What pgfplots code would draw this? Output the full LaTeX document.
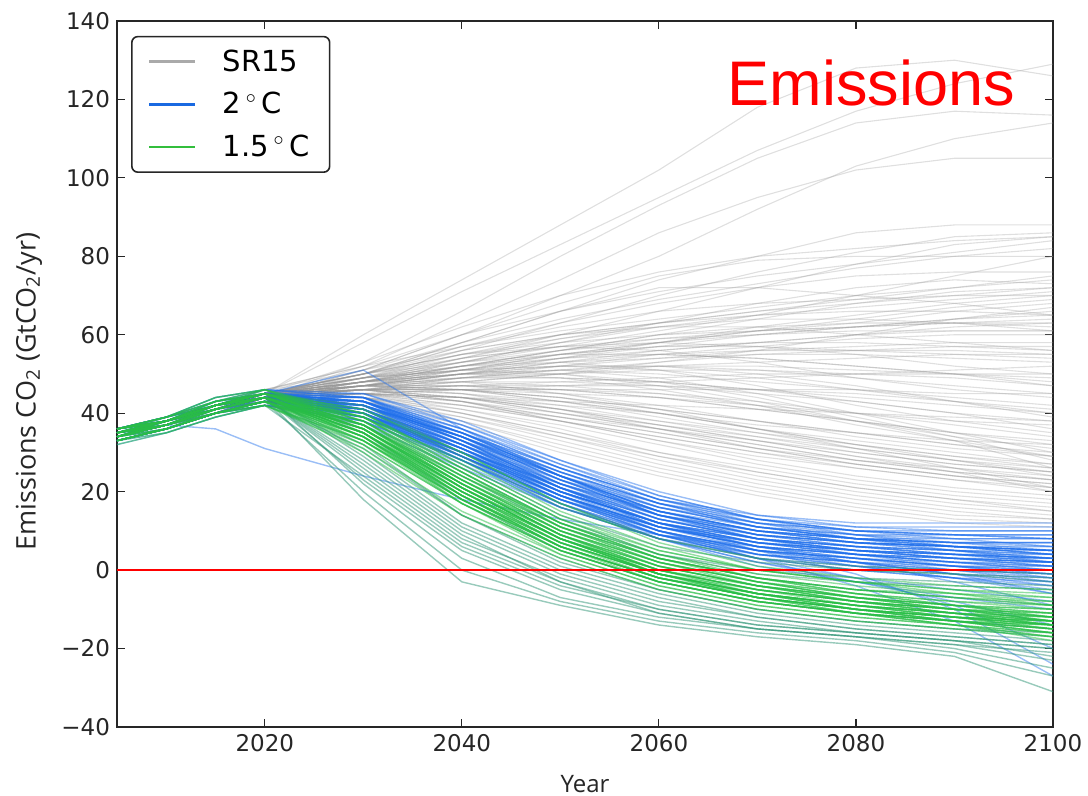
\documentclass[border=0pt]{standalone}
\usepackage{pgfplots}
\usepackage{pgfplotstable}
\pgfplotsset{compat=1.18}
\usepackage{fontspec}
\setmainfont{DejaVu Sans}
\newfontfamily\labfont{Open Sans}
\newfontfamily\arialfont{Liberation Sans}

\definecolor{greyl}{RGB}{150,150,150}
\definecolor{bluel}{RGB}{30,110,235}
\definecolor{greenl}{RGB}{40,190,70}
\definecolor{teall}{RGB}{50,150,120}
\definecolor{leggrey}{RGB}{170,170,170}
\definecolor{legblue}{RGB}{25,105,225}
\definecolor{leggreen}{RGB}{50,190,60}

% rows = scenarios, columns = years
\pgfplotstableread[header=has colnames]{
2005 2010 2015 2020 2030 2040 2050 2060 2070 2080 2090 2100
34 37 41 45 60 74 88 102 118 128 130 126
35 37 41 45 58 71 83 95 107 117 124 129
34 37 40 44 53 66 80 93 105 114 117 116
35 38 41 45 51 60 70 80 92 103 110 114
34 37 40 44 52 63 74 86 95 102 105 105
35 37 41 45 50 58 66 74 80 86 88 88
34 37 40 44 49 56 63 70 76 81 85 86
35 38 41 46 52 60 68 75 79 80 80 80
34 37 40 45 50 57 63 68 72 75 76 76
35 37 41 45 48 53 58 63 68 72 74 73
34 37 40 44 50 58 66 72 72 70 68 65
35 38 41 45 49 52 56 60 64 68 71 72
34 37 40 44 48 51 55 58 62 65 68 70
35 37 41 45 47 50 54 58 61 63 66 68
34 37 40 44 49 55 60 63 65 66 66 65
35 38 41 45 48 52 56 60 62 63 63 62
34 37 40 44 47 50 53 56 58 60 61 61
35 37 41 45 50 56 60 62 62 60 58 56
34 37 40 44 46 49 52 55 57 59 60 60
35 38 41 45 48 50 52 54 56 57 58 58
34 37 40 44 47 51 55 57 57 56 55 54
35 37 41 45 49 54 57 58 57 55 52 50
34 37 40 44 46 48 50 52 53 54 55 55
35 38 41 45 48 52 54 55 54 52 50 48
34 37 40 44 47 49 51 52 52 51 50 49
35 37 41 45 50 55 57 56 53 49 46 44
34 37 40 44 46 47 48 49 50 50 51 52
35 38 41 45 48 50 51 50 48 46 44 42
34 37 40 44 47 50 52 52 50 47 43 40
35 37 41 45 46 46 46 46 46 46 45 45
34 37 40 44 48 52 53 51 47 42 38 35
35 38 41 45 47 48 48 47 45 43 40 38
34 37 40 44 46 46 45 44 42 40 38 37
35 37 41 45 49 51 50 47 43 38 34 31
34 37 40 44 46 47 46 44 41 38 35 33
35 38 41 45 47 47 45 42 38 34 31 29
34 37 40 44 45 44 42 40 37 35 33 32
35 37 41 45 48 48 45 41 36 32 29 27
34 37 40 44 46 45 42 38 34 30 27 25
35 38 41 45 46 44 40 36 32 28 26 24
34 37 40 44 45 43 40 37 34 31 28 26
35 37 41 45 47 45 41 36 31 27 24 22
34 37 40 44 45 42 38 33 29 26 23 21
35 38 41 45 46 43 38 33 28 24 21 19
34 37 40 44 44 41 37 32 27 23 20 18
35 37 41 45 45 41 36 30 25 21 18 16
34 37 40 44 44 40 35 29 24 20 17 15
35 38 41 45 45 40 34 28 23 19 16 14
34 37 40 44 43 38 32 26 21 17 14 13
35 37 41 45 44 38 31 25 20 16 13 12
34 37 40 44 43 37 30 24 19 15 12 11
35 38 41 45 44 39 33 27 22 18 15 13
34 37 40 44 46 43 39 35 31 28 25 23
35 37 41 45 47 46 44 41 38 35 32 30
34 37 40 44 47 49 49 48 46 44 42 40
35 38 41 45 49 53 55 55 54 52 50 47
34 37 40 44 48 51 54 56 58 60 62 63
35 37 41 45 50 55 59 63 66 69 72 75
34 37 40 44 51 58 64 69 73 77 80 82
35 38 41 45 49 53 57 61 65 70 75 80
34 37 40 44 48 54 60 66 72 78 83 85
35 37 41 45 46 48 50 53 56 60 64 67
34 37 40 44 45 46 47 48 49 50 50 50
35 38 41 45 45 44 43 42 41 40 39 38
34 37 40 44 47 50 51 49 45 40 35 30
35 37 41 45 48 50 50 48 44 39 34 28
34 37 40 44 46 46 44 40 36 31 26 21
35 38 41 45 44 40 35 30 26 22 19 17
34 37 40 44 45 44 41 37 33 29 25 20
35 37 41 45 47 48 47 45 42 38 33 26
34 37 40 44 43 39 34 29 25 21 18 15
35 38 41 45 46 45 43 40 36 32 28 24
34 37 41 45 50 57 62 66 68 69 70 70
35 38 42 46 51 56 60 63 66 68 70 72
33 36 40 44 48 53 58 62 65 67 69 71
36 38 41 45 49 52 55 58 61 64 67 69
34 37 40 44 47 51 54 57 60 62 64 65
35 38 42 45 50 54 57 59 60 61 61 61
33 36 40 44 46 49 51 53 55 56 57 57
34 37 41 45 48 51 53 54 55 55 54 53
35 38 41 45 47 49 50 51 51 50 49 47
36 39 42 46 49 51 52 52 51 49 47 45
34 37 40 44 46 47 47 47 46 45 43 41
35 37 41 45 48 49 49 48 46 43 40 36
33 36 40 43 45 46 46 45 43 40 37 34
34 38 42 45 47 47 46 44 41 38 35 32
35 37 41 44 46 46 44 41 38 35 32 29
36 38 42 45 47 46 43 40 36 33 30 27
34 37 40 44 45 44 41 38 35 32 29 26
35 38 41 45 46 44 41 37 33 29 26 23
33 36 40 44 45 43 39 35 31 27 24 21
34 37 41 45 46 43 38 34 30 26 23 20
35 38 42 45 45 42 38 34 30 27 24 22
36 38 41 45 46 44 40 36 32 28 25 23
34 37 40 44 44 42 39 36 33 30 27 25
35 37 41 45 47 46 43 39 35 31 28 25
34 37 40 44 48 50 49 46 42 37 33 29
35 38 41 45 49 51 52 51 49 46 43 39
33 36 40 44 47 50 53 55 56 56 56 55
34 37 41 45 50 53 56 58 60 62 64 66
35 38 42 46 52 57 61 64 67 70 72 74
36 39 42 45 50 55 58 60 61 62 63 64
34 37 40 44 49 54 59 62 64 64 63 61
35 38 41 45 48 52 55 57 58 58 57 56
34 37 40 44 47 52 56 59 61 62 63 63
35 37 41 45 53 62 70 76 80 82 84 85
34 37 40 44 51 60 66 71 75 78 81 84
}\greyraw

\pgfplotstableread[header=has colnames]{
2005 2010 2015 2020 2030 2040 2050 2060 2070 2080 2090 2100
35 38 42 45 44 36 26 18 14 12 12 12
34 37 41 44 43 35 25 17 13 11 11 11
36 38 42 45 42 33 24 17 12 10 10 10
33 36 40 43 41 32 22 15 11 9 9 9
35 38 42 44 42 34 23 15 10 8 8 8
34 37 41 44 40 31 21 14 10 8 7 7
36 38 41 45 43 35 24 15 9 7 6 6
33 36 40 43 39 30 20 12 8 6 5 5
35 37 41 44 41 32 21 13 8 6 5 4
34 38 42 45 43 33 22 13 8 5 4 3
36 38 42 45 42 32 20 11 7 5 3 3
33 36 40 43 40 30 19 11 6 4 3 2
35 38 41 44 41 31 20 12 6 4 2 2
34 37 41 44 39 29 18 10 5 3 2 1
36 39 42 45 42 31 19 10 5 3 1 1
33 36 40 42 38 28 17 9 5 3 1 0
35 38 42 44 40 30 19 10 4 2 1 0
34 37 41 44 41 30 18 9 4 2 0 -1
36 38 42 45 43 32 20 10 4 1 0 -1
33 36 40 43 39 28 17 8 3 1 -1 -2
35 37 41 44 40 29 18 9 3 0 -2 -3
34 38 42 45 42 31 19 9 3 0 -2 -4
36 38 42 45 44 34 24 16 11 9 8 8
33 36 40 43 42 35 26 18 13 10 8 6
35 38 41 44 42 34 25 17 11 8 6 5
34 37 41 44 43 36 27 19 13 9 6 4
36 39 42 45 41 30 20 12 8 6 5 3
33 36 40 42 40 30 20 12 7 4 2 0
35 38 42 44 41 30 19 11 6 2 -1 -4
34 37 41 44 40 28 16 8 2 -2 -5 -8
36 38 42 45 41 29 17 8 1 -3 -7 -10
33 36 40 43 38 27 16 8 2 -3 -8 -14
35 37 41 44 39 28 17 9 3 -2 -9 -20
34 38 42 45 41 31 20 12 5 -1 -10 -24
36 38 42 45 40 29 18 10 3 -4 -13 -27
33 36 40 43 39 30 22 15 10 8 7 6
35 38 41 44 44 37 28 20 14 11 10 10
34 37 41 44 42 33 23 14 9 6 4 2
36 39 42 45 43 33 21 12 7 4 2 1
35 38 42 45 51 36 24 15 10 7 5 4
35 37 36 31 24 18 13 9 6 4 3 2
34 37 41 43 37 26 16 9 5 3 1 -1
35 38 42 45 40 28 16 8 4 2 0 -2
36 38 42 46 45 38 28 19 13 10 9 9
34 37 41 44 43 34 23 14 9 7 6 5
34 37 42 45 42 33 22 14 10 8 7 7
35 38 43 45 43 34 23 14 9 7 6 5
36 39 44 46 44 35 25 16 11 8 6 4
33 35 39 42 40 31 21 13 9 7 6 5
34 36 40 44 42 33 24 15 10 7 5 3
35 37 41 43 41 32 22 14 9 6 4 2
36 38 43 45 42 32 21 12 7 5 4 3
33 36 41 44 43 34 22 13 8 5 3 2
34 37 42 44 41 31 20 12 8 6 4 3
35 39 44 46 44 33 21 11 6 4 3 2
36 38 41 43 40 30 19 11 7 5 4 4
32 35 39 42 39 29 19 11 7 5 4 3
34 37 40 43 41 32 23 16 12 10 9 8
35 38 42 44 42 34 25 17 12 9 7 5
36 38 42 45 43 35 26 18 12 8 5 2
33 36 40 43 40 31 20 12 7 4 1 -2
34 37 41 44 42 32 21 12 6 3 0 -3
35 38 43 45 43 33 21 11 5 1 -2 -5
36 39 43 46 41 29 18 10 5 2 -1 -6
34 36 40 42 38 28 18 11 6 3 1 -1
35 37 41 44 39 29 19 11 6 2 -3 -9
33 36 40 43 41 31 21 13 8 5 3 1
34 37 41 44 44 36 26 17 11 8 6 4
36 38 42 45 44 35 24 14 8 4 2 0
35 38 42 44 40 29 18 9 4 1 -2 -6
34 37 41 44 40 30 19 10 5 2 -1 -3
35 38 42 45 42 34 24 16 11 8 7 7
36 39 43 45 45 37 27 18 13 10 9 8
33 36 40 43 42 34 24 15 10 7 6 5
34 38 42 44 43 35 24 14 8 5 3 1
}\blueraw

\pgfplotstableread[header=has colnames]{
2005 2010 2015 2020 2030 2040 2050 2060 2070 2080 2090 2100
35 38 42 44 36 22 10 2 -3 -6 -8 -10
34 37 41 44 35 20 8 0 -5 -8 -10 -12
36 38 42 45 37 23 11 3 -2 -5 -7 -9
33 36 40 43 33 18 6 -2 -6 -9 -11 -13
35 38 41 44 34 19 7 -1 -6 -9 -12 -14
34 37 41 44 36 21 8 -1 -6 -10 -12 -14
36 39 42 45 38 24 12 4 -1 -4 -6 -8
33 36 40 43 32 17 5 -3 -8 -11 -13 -15
35 37 41 44 35 20 7 -2 -7 -10 -13 -16
34 38 42 45 37 22 9 0 -5 -9 -12 -15
36 38 42 45 39 26 13 5 0 -3 -5 -7
33 36 40 42 31 15 4 -4 -9 -12 -14 -16
35 38 42 44 35 19 6 -3 -8 -11 -14 -17
34 37 41 44 33 17 5 -3 -8 -11 -13 -14
36 38 42 45 36 21 9 1 -4 -7 -9 -11
33 36 40 43 34 20 8 0 -4 -7 -9 -10
35 37 41 44 37 23 10 2 -3 -7 -10 -13
34 38 42 45 38 25 12 3 -2 -6 -9 -12
36 38 42 46 40 27 14 5 0 -3 -6 -9
35 37 41 44 34 18 6 -2 -7 -10 -12 -13
34 37 40 43 30 14 3 -5 -10 -13 -15 -17
35 38 42 44 36 22 10 1 -4 -8 -11 -14
36 38 42 45 41 30 17 7 1 -2 -4 -5
34 37 41 44 39 28 15 6 0 -3 -5 -6
35 38 41 44 36 20 7 -1 -6 -9 -11 -12
34 37 42 45 37 22 9 1 -4 -7 -9 -11
35 38 43 45 36 21 8 0 -5 -8 -10 -12
36 39 44 46 38 23 10 1 -4 -8 -11 -14
33 35 39 42 33 19 7 -1 -6 -10 -13 -16
34 36 40 43 34 19 6 -2 -7 -10 -12 -14
35 37 41 44 35 20 7 -1 -6 -9 -11 -13
36 38 43 45 36 21 8 -1 -6 -9 -11 -12
33 36 41 44 36 22 9 0 -5 -8 -10 -11
34 37 42 44 34 18 5 -3 -8 -11 -13 -15
35 39 44 46 37 21 8 -1 -7 -11 -14 -17
36 38 41 43 35 21 9 1 -4 -7 -9 -10
32 35 39 42 32 17 5 -3 -8 -11 -13 -14
34 37 40 43 33 18 6 -2 -7 -10 -13 -15
35 38 42 44 37 24 12 3 -2 -5 -7 -8
36 38 42 45 39 25 12 3 -3 -7 -10 -13
33 36 40 43 35 21 8 -1 -6 -9 -11 -13
34 37 41 44 36 22 9 -1 -7 -11 -14 -18
35 38 43 45 37 22 9 0 -6 -10 -13 -16
36 39 43 46 39 25 11 2 -4 -8 -11 -14
34 36 40 42 33 18 6 -2 -7 -10 -12 -13
35 37 41 44 35 19 6 -2 -7 -10 -12 -15
33 36 40 43 34 19 7 -1 -5 -8 -10 -12
34 37 41 44 37 23 10 2 -3 -6 -8 -9
36 38 42 45 38 24 11 2 -3 -7 -10 -13
35 38 42 44 34 17 4 -4 -9 -12 -14 -16
34 37 41 44 35 20 8 0 -5 -8 -10 -11
35 38 42 45 37 23 11 3 -2 -5 -6 -7
36 39 43 45 40 26 13 4 -2 -6 -9 -12
33 36 40 43 36 21 8 -1 -6 -9 -12 -14
34 38 42 44 35 19 6 -2 -7 -10 -12 -13
}\greenraw

\pgfplotstableread[header=has colnames]{
2005 2010 2015 2020 2030 2040 2050 2060 2070 2080 2090 2100
35 38 42 44 18 -3 -9 -14 -17 -19 -22 -31
34 37 41 43 20 0 -8 -13 -16 -18 -21 -27
36 38 42 45 22 3 -7 -12 -15 -17 -20 -25
33 36 40 42 24 6 -4 -10 -14 -16 -18 -22
35 38 41 44 26 8 -2 -9 -13 -16 -18 -20
34 37 41 44 28 10 -1 -8 -12 -15 -17 -19
36 38 42 45 30 12 1 -6 -11 -14 -16 -18
35 37 41 44 32 14 2 -5 -10 -13 -15 -17
34 38 42 45 40 27 14 6 2 0 -1 -2
36 39 42 45 41 29 16 8 3 1 0 -1
33 36 40 43 38 25 12 4 0 -2 -3 -4
35 38 42 44 27 9 -3 -11 -15 -17 -19 -21
34 37 41 44 25 7 -3 -10 -14 -16 -18 -20
35 38 42 45 29 11 0 -7 -12 -15 -17 -19
36 39 43 46 35 18 5 -3 -8 -11 -13 -15
33 36 40 43 31 14 3 -5 -10 -13 -15 -16
34 37 42 44 39 26 13 4 -1 -3 -4 -5
35 38 42 45 42 30 17 8 3 0 -1 -3
34 36 40 42 37 24 11 3 -2 -5 -7 -9
35 37 41 44 23 5 -5 -11 -15 -17 -19 -23
}\tealraw

\pgfplotstabletranspose\greytab\greyraw
\pgfplotstabletranspose\bluetab\blueraw
\pgfplotstabletranspose\greentab\greenraw
\pgfplotstabletranspose\tealtab\tealraw
\pgfplotstablegetrowsof{\greyraw}\edef\ngrey{\pgfplotsretval}
\pgfplotstablegetrowsof{\blueraw}\edef\nblue{\pgfplotsretval}
\pgfplotstablegetrowsof{\greenraw}\edef\ngreen{\pgfplotsretval}
\pgfplotstablegetrowsof{\tealraw}\edef\nteal{\pgfplotsretval}

\begin{document}
\begin{tikzpicture}
\useasboundingbox (-58.5pt,-34.5pt) rectangle (485.5pt,363.5pt);
\begin{axis}[
  at={(0,0)}, anchor=south west,
  scale only axis, width=468pt, height=353pt,
  xmin=2005, xmax=2100, ymin=-40, ymax=140,
  xtick={2020,2040,2060,2080,2100},
  xticklabels={2020,2040,2060,2080,2100},
  ytick={-40,-20,0,20,40,60,80,100,120,140},
  yticklabels={−40,−20,0,20,40,60,80,100,120,140},
  ticklabel style={font=\fontsize{11.5}{13}\selectfont, text=black!85},
  tick align=inside, major tick length=4pt,
  tick style={black!85, line width=0.6pt},
  axis line style={black!85, line width=0.8pt},
  xlabel={Year}, ylabel={Emissions CO\textsubscript{2} (GtCO\textsubscript{2}/yr)},
  every axis x label/.style={at={(axis description cs:0.5,0)}, yshift=-28.5pt, anchor=center, font=\labfont\fontsize{12}{14}\selectfont, text=black!85},
  every axis y label/.style={at={(axis description cs:0,0.475)}, xshift=-44pt, rotate=90, anchor=center, font=\labfont\fontsize{13.5}{15}\selectfont, text=black!85},
  legend cell align=left,
  legend style={at={(0.015,0.979)}, anchor=north west, draw=black!85, line width=0.8pt, rounded corners=3pt,
    font=\fontsize{14.5}{17}\selectfont, inner xsep=8pt, inner ysep=4.5pt, row sep=5pt,
    /tikz/every odd column/.append style={column sep=11pt}},
  legend image code/.code={\draw[#1, line width=1.4pt] (0pt,0pt) -- (23pt,0pt);},
]
\addlegendimage{leggrey}
\addlegendentry{SR15}
\addlegendimage{legblue}
\addlegendentry{2\,$^{\circ}$\,C}
\addlegendimage{leggreen}
\addlegendentry{1.5\,$^{\circ}$\,C}

\pgfplotsinvokeforeach{1,...,\ngrey}{
  \addplot[forget plot, color=greyl, opacity=0.3, line width=0.55pt] table[x=colnames, y index=#1]{\greytab};
}
\pgfplotsinvokeforeach{1,...,\nblue}{
  \addplot[forget plot, color=bluel, opacity=0.45, line width=0.7pt] table[x=colnames, y index=#1]{\bluetab};
}
\pgfplotsinvokeforeach{1,...,\nteal}{
  \addplot[forget plot, color=teall, opacity=0.5, line width=0.7pt] table[x=colnames, y index=#1]{\tealtab};
}
\pgfplotsinvokeforeach{1,...,\ngreen}{
  \addplot[forget plot, color=greenl, opacity=0.5, line width=0.7pt] table[x=colnames, y index=#1]{\greentab};
}
\addplot[forget plot, color=red, line width=1pt] coordinates {(2005,0) (2100,0)};

\node[anchor=base west, inner sep=0pt, text=red, font=\arialfont\fontsize{31.5}{36}\selectfont] at (rel axis cs:0.652,0.881) {Emissions};
\end{axis}
\end{tikzpicture}
\end{document}
